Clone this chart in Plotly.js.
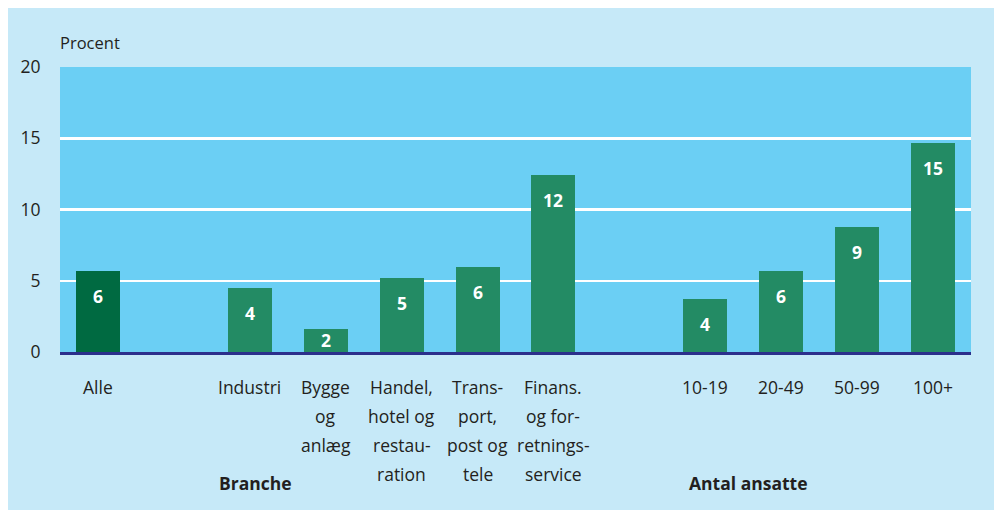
<!DOCTYPE html>
<html>
<head>
<meta charset="utf-8">
<script src="https://cdn.plot.ly/plotly-3.0.1.min.js"></script>
<style>
  html, body { margin: 0; padding: 0; background: #ffffff; }
  #wrap { position: absolute; left: 8px; top: 8px; width: 986px; height: 502px; }
</style>
</head>
<body>
<div id="wrap"></div>
<script>
// ---- data ----
const allCategories = ['Alle'];
const allValues = [5.7];
const allLabels = ['6'];

const brancheCategories = ['Industri', 'Bygge og anlæg', 'Handel, hotel og restauration', 'Transport, post og tele', 'Finans. og forretningsservice'];
const brancheValues = [4.5, 1.6, 5.2, 6.0, 12.4];
const brancheLabels = ['4', '2', '5', '6', '12'];

const sizeCategories = ['10-19', '20-49', '50-99', '100+'];
const sizeValues = [3.7, 5.7, 8.8, 14.7];
const sizeLabels = ['4', '6', '9', '15'];

const tickLines = [
  ['Alle'],
  ['Industri'], ['Bygge', 'og', 'anlæg'], ['Handel,', 'hotel og', 'restau-', 'ration'],
  ['Trans-', 'port,', 'post og', 'tele'], ['Finans.', 'og for-', 'retnings-', 'service'],
  ['10-19'], ['20-49'], ['50-99'], ['100+']
];
const groupTitles = ['Branche', 'Antal ansatte'];
const yTicks = [0, 5, 10, 15, 20];
const yAxisLabel = 'Procent';

// ---- layout helpers ----
const groups = [
  {cats: allCategories, vals: allValues, labs: allLabels, color: '#006a41'},
  {cats: brancheCategories, vals: brancheValues, labs: brancheLabels, color: '#238b64'},
  {cats: sizeCategories, vals: sizeValues, labs: sizeLabels, color: '#238b64'}
];

const FONT = '"Open Sans", "Noto Sans", sans-serif';
const TXT = '#231f20';
const FS = 17.5;
const pxPerUnit = 285 / 20;

const traces = [];
const annotations = [];
let pos = 0;
const centers = [];
groups.forEach((g, gi) => {
  const xs = g.cats.map((c, i) => pos + i);
  xs.forEach(x => centers.push(x));
  traces.push({
    type: 'bar', x: xs, y: g.vals, width: 0.58,
    marker: {color: g.color, line: {width: 0}},
    text: g.cats, hoverinfo: 'text+y', textposition: 'none',
    showlegend: false
  });
  g.vals.forEach((v, i) => {
    annotations.push({
      x: xs[i], y: v, xref: 'x', yref: 'y', text: g.labs[i], showarrow: false,
      xanchor: 'center', yanchor: 'middle',
      yshift: -Math.min(25, v * pxPerUnit - 12),
      font: {family: FONT, size: FS, color: '#ffffff', weight: 'bold'}
    });
  });
  pos += g.cats.length + 1;
});

// category tick labels, one annotation per line
tickLines.forEach((lines, i) => {
  lines.forEach((line, li) => {
    annotations.push({
      x: centers[i], xref: 'x', y: 0, yref: 'paper', text: line, showarrow: false,
      xanchor: 'center', yanchor: 'middle', yshift: -35 - li * 29,
      font: {family: FONT, size: FS, color: TXT}
    });
  });
});

// group titles
annotations.push({x: 0.215, xref: 'paper', y: 0, yref: 'paper', text: groupTitles[0],
  showarrow: false, xanchor: 'center', yanchor: 'middle', yshift: -131,
  font: {family: FONT, size: FS, color: TXT, weight: 'bold'}});
annotations.push({x: 0.756, xref: 'paper', y: 0, yref: 'paper', text: groupTitles[1],
  showarrow: false, xanchor: 'center', yanchor: 'middle', yshift: -131,
  font: {family: FONT, size: FS, color: TXT, weight: 'bold'}});

// y axis label
annotations.push({x: 0, xref: 'paper', y: 1, yref: 'paper', text: yAxisLabel,
  showarrow: false, xanchor: 'left', yanchor: 'middle', xshift: -2, yshift: 25,
  font: {family: FONT, size: 16.5, color: TXT}});

const layout = {
  width: 986, height: 502,
  margin: {l: 52, r: 23, t: 59, b: 158},
  paper_bgcolor: '#c6e9f8',
  plot_bgcolor: '#6bcff4',
  bargap: 0,
  xaxis: {
    range: [-0.5, 11.5], showticklabels: false, ticks: '', showgrid: false,
    zeroline: false, showline: true, linecolor: '#2b2f8c', linewidth: 2.5,
    fixedrange: true
  },
  yaxis: {
    range: [0, 20], tickvals: yTicks, ticktext: yTicks.map(String),
    showgrid: true, gridcolor: '#ffffff', gridwidth: 2.5,
    zeroline: false, showline: false,
    ticks: 'outside', ticklen: 15, tickcolor: 'rgba(0,0,0,0)',
    tickfont: {family: FONT, size: FS, color: TXT},
    fixedrange: true
  },
  annotations: annotations,
  font: {family: FONT, color: TXT}
};

Plotly.newPlot('wrap', traces, layout, {displayModeBar: false, staticPlot: true});
</script>
</body>
</html>
